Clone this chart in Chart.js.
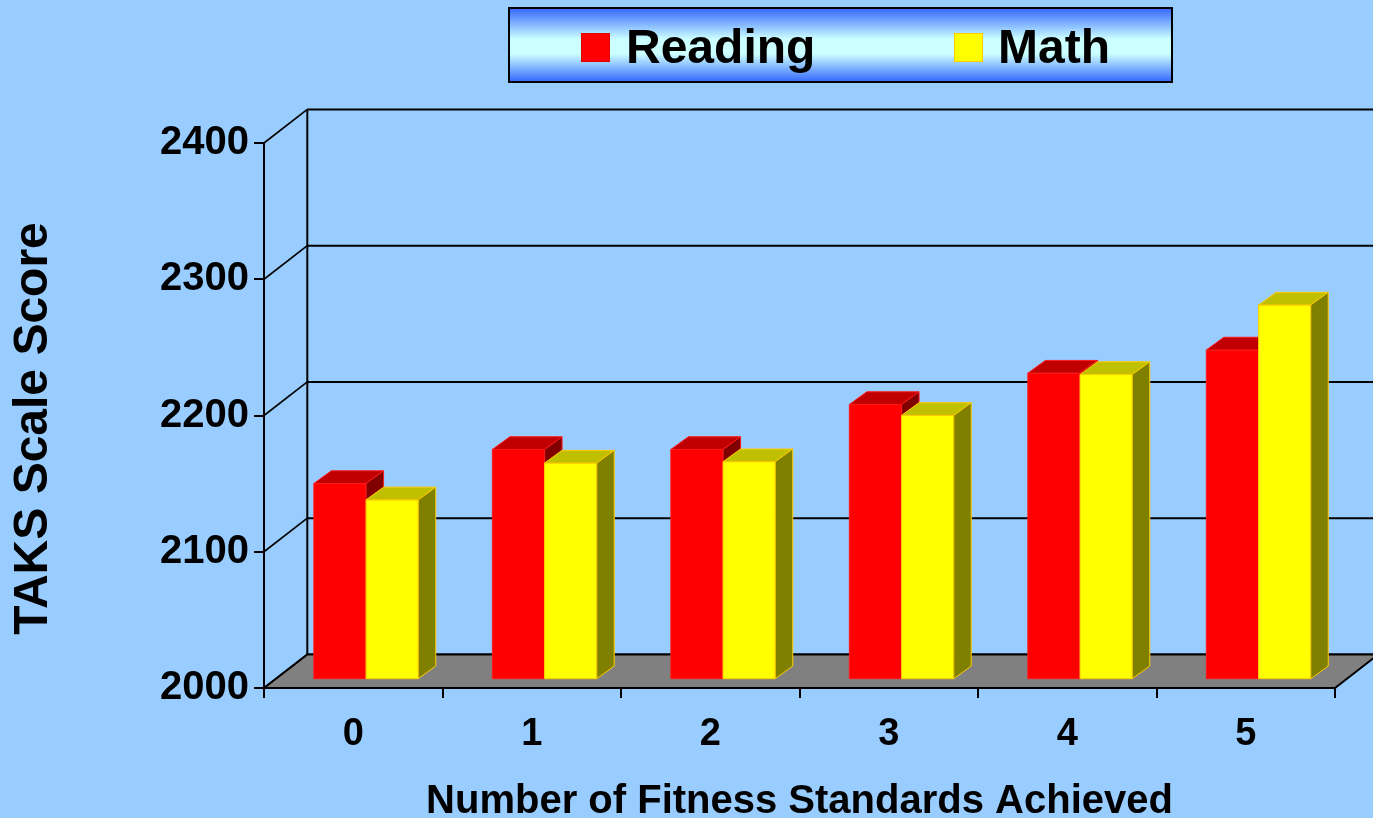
<!DOCTYPE html>
<html>
<head>
<meta charset="utf-8">
<title>TAKS Scale Score by Fitness Standards</title>
<script src="https://cdn.jsdelivr.net/npm/chart.js@4.4.1/dist/chart.umd.min.js"></script>
<style>
  html, body { margin: 0; padding: 0; background: #99CCFF; }
  #wrap { width: 1373px; height: 818px; position: relative; }
  canvas { display: block; }
</style>
</head>
<body>
<div id="wrap"><canvas id="chart" width="1373" height="818"></canvas></div>
<script>
// Average TAKS scale scores grouped by how many fitness standards a student met
const categories = ['0', '1', '2', '3', '4', '5'];
const readingScores = [2144, 2169, 2169, 2202, 2225, 2242];
const mathScores = [2132, 2159, 2160, 2194, 2224, 2275];
const yTickValues = [2000, 2100, 2200, 2300, 2400];
const yAxisTitle = 'TAKS Scale Score';
const xAxisTitle = 'Number of Fitness Standards Achieved';

const FONT = '"Liberation Sans", Arial, Helvetica, sans-serif';

// Projection used for the 3-D look (in pixels)
const WALL_DEPTH = { dx: 43.3, dy: -33.6 };   // front axis plane -> back wall
const BAR_SHIFT = { dx: 12.8, dy: -8.3 };     // front axis plane -> bar front faces
const BAR_DEPTH = { dx: 17.5, dy: -12.7 };    // thickness of each column

const faceColors = {
  Reading: { front: '#FF0000', top: '#C00000', side: '#800000', edge: '#FF1A1A' },
  Math: { front: '#FFFF00', top: '#C0C000', side: '#808000', edge: '#FFCC00' }
};

function line(ctx, x1, y1, x2, y2, w) {
  ctx.beginPath();
  ctx.lineWidth = w;
  ctx.moveTo(x1, y1);
  ctx.lineTo(x2, y2);
  ctx.stroke();
}

function poly(ctx, pts, fill, stroke, w) {
  ctx.beginPath();
  ctx.moveTo(pts[0][0], pts[0][1]);
  for (let i = 1; i < pts.length; i++) ctx.lineTo(pts[i][0], pts[i][1]);
  ctx.closePath();
  ctx.fillStyle = fill;
  ctx.fill();
  if (stroke) {
    ctx.strokeStyle = stroke;
    ctx.lineWidth = w;
    ctx.stroke();
  }
}

// Background, back wall, side wall and floor
const scenePlugin = {
  id: 'scene3d',
  beforeDraw(chart) {
    const ctx = chart.ctx;
    const { left, right, top, bottom } = chart.chartArea;
    const ys = chart.scales.y;
    ctx.save();
    ctx.fillStyle = '#99CCFF';
    ctx.fillRect(0, 0, chart.width, chart.height);

    ctx.strokeStyle = '#000';
    yTickValues.forEach(v => {
      const y = ys.getPixelForValue(v);
      line(ctx, left, y, left + WALL_DEPTH.dx, y + WALL_DEPTH.dy, 1.6);
      line(ctx, left + WALL_DEPTH.dx, y + WALL_DEPTH.dy, right + WALL_DEPTH.dx + 4, y + WALL_DEPTH.dy, 2);
    });
    line(ctx, left + WALL_DEPTH.dx, top + WALL_DEPTH.dy, left + WALL_DEPTH.dx, bottom + WALL_DEPTH.dy, 2);

    poly(ctx, [
      [left, bottom],
      [right, bottom],
      [right + WALL_DEPTH.dx, bottom + WALL_DEPTH.dy],
      [left + WALL_DEPTH.dx, bottom + WALL_DEPTH.dy]
    ], '#808080', '#000', 2);
    ctx.restore();
  },
  // columns are rendered as boxes below instead of flat rectangles
  beforeDatasetDraw() {
    return false;
  },
  afterDatasetsDraw(chart) {
    const ctx = chart.ctx;
    const metas = chart.data.datasets.map((d, i) => chart.getDatasetMeta(i));
    ctx.save();
    ctx.lineJoin = 'miter';
    for (let idx = 0; idx < categories.length; idx++) {
      metas.forEach((meta, di) => {
        const bar = meta.data[idx];
        if (!bar) return;
        const { x, y, base, width } = bar.getProps(['x', 'y', 'base', 'width'], true);
        const c = faceColors[chart.data.datasets[di].label];
        const l = x - width / 2 + BAR_SHIFT.dx;
        const r = x + width / 2 + BAR_SHIFT.dx;
        const t = y + BAR_SHIFT.dy;
        const b = base + BAR_SHIFT.dy;
        const dx = BAR_DEPTH.dx, dy = BAR_DEPTH.dy;
        poly(ctx, [[l, t], [r, t], [r, b], [l, b]], c.front, c.edge, 1);
        poly(ctx, [[l, t], [r, t], [r + dx, t + dy], [l + dx, t + dy]], c.top, c.edge, 1);
        poly(ctx, [[r, t], [r + dx, t + dy], [r + dx, b + dy], [r, b]], c.side, c.edge, 1);
      });
    }
    ctx.restore();
  },
  afterDraw(chart) {
    const ctx = chart.ctx;
    ctx.save();

    // value axis title, rotated
    ctx.font = 'bold 48px ' + FONT;
    ctx.fillStyle = '#000';
    ctx.textAlign = 'center';
    ctx.textBaseline = 'middle';
    ctx.translate(34, 428.5);
    ctx.rotate(-Math.PI / 2);
    ctx.fillText(yAxisTitle, 0, 0);
    ctx.setTransform(1, 0, 0, 1, 0, 0);

    // legend panel with a vertical blue gradient
    const bx = 509, by = 8, bw = 663, bh = 74;
    const g = ctx.createLinearGradient(0, by, 0, by + bh);
    g.addColorStop(0, '#3366FF');
    g.addColorStop(0.42, '#CCFFFF');
    g.addColorStop(0.62, '#CCFFFF');
    g.addColorStop(1, '#3366FF');
    ctx.fillStyle = g;
    ctx.fillRect(bx, by, bw, bh);
    ctx.strokeStyle = '#000';
    ctx.lineWidth = 2;
    ctx.strokeRect(bx, by, bw, bh);

    const items = [{ sx: 581, tx: 626 }, { sx: 954, tx: 998 }];
    ctx.font = 'bold 48px ' + FONT;
    ctx.textBaseline = 'alphabetic';
    ctx.textAlign = 'left';
    chart.data.datasets.forEach((ds, i) => {
      const c = faceColors[ds.label];
      ctx.fillStyle = c.front;
      ctx.fillRect(items[i].sx, 33, 29, 29);
      ctx.strokeStyle = i === 0 ? '#E00000' : '#FFCC00';
      ctx.lineWidth = 1;
      ctx.strokeRect(items[i].sx + 0.5, 33.5, 28, 28);
      ctx.fillStyle = '#000';
      ctx.fillText(ds.label, items[i].tx, 63);
    });
    ctx.restore();
  }
};

new Chart(document.getElementById('chart'), {
  type: 'bar',
  data: {
    labels: categories,
    datasets: [
      { label: 'Reading', data: readingScores, base: yTickValues[0], backgroundColor: faceColors.Reading.front },
      { label: 'Math', data: mathScores, base: yTickValues[0], backgroundColor: faceColors.Math.front }
    ]
  },
  options: {
    responsive: false,
    animation: false,
    devicePixelRatio: 1,
    categoryPercentage: 0.585,
    barPercentage: 1.0,
    layout: { padding: { top: 143, right: 38, left: 0, bottom: 0 } },
    plugins: {
      legend: { display: false },
      tooltip: { enabled: false },
      title: { display: false }
    },
    scales: {
      x: {
        type: 'category',
        offset: true,
        afterFit(scale) { scale.height = 130; },
        grid: {
          offset: true,
          drawOnChartArea: false,
          drawTicks: true,
          tickLength: 10,
          color: '#000',
          lineWidth: 2
        },
        border: { display: true, color: '#000', width: 2 },
        ticks: {
          color: '#000',
          padding: 14,
          font: { family: FONT, size: 38, weight: 'bold' }
        },
        title: {
          display: true,
          text: xAxisTitle,
          color: '#000',
          font: { family: FONT, size: 40, weight: 'bold', lineHeight: 1 },
          padding: { top: 0, bottom: -4 }
        }
      },
      y: {
        min: 2000,
        max: 2400,
        afterFit(scale) { scale.width = 264; },
        afterBuildTicks(scale) { scale.ticks = yTickValues.map(v => ({ value: v })); },
        grid: {
          drawOnChartArea: false,
          drawTicks: true,
          tickLength: 10,
          color: '#000',
          lineWidth: 2
        },
        border: { display: true, color: '#000', width: 2 },
        ticks: {
          color: '#000',
          padding: 5,
          font: { family: FONT, size: 40, weight: 'bold' },
          callback: v => String(v)
        },
        title: { display: false }
      }
    }
  },
  plugins: [scenePlugin]
});
</script>
</body>
</html>
